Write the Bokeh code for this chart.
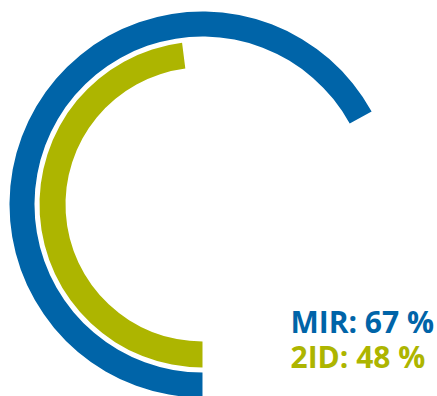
import math
from bokeh.plotting import figure
from bokeh.models import Range1d, ColumnDataSource
from bokeh.core.properties import value
from bokeh.embed import file_html
from bokeh.resources import INLINE

labels = ["MIR", "2ID"]
percents = [67, 48]
colors = ["#0064A8", "#ADB500"]

inner_r = [168, 137]
outer_r = [193, 163]

W, H = 437, 396
cx, cy = 202, H - 204

p = figure(width=W, height=H, output_backend="svg", toolbar_location=None,
           x_range=Range1d(0, W), y_range=Range1d(0, H), min_border=0)
p.axis.visible = False
p.grid.visible = False
p.outline_line_color = None
p.background_fill_color = "white"
p.border_fill_color = "white"

start = [-math.pi / 2 for _ in percents]
end = [-math.pi / 2 - v / 100 * 2 * math.pi for v in percents]
src = ColumnDataSource(dict(x=[cx] * len(percents), y=[cy] * len(percents),
                            ir=inner_r, orr=outer_r, s=start, e=end, c=colors))
p.annular_wedge(x="x", y="y", inner_radius="ir", outer_radius="orr",
                start_angle="s", end_angle="e", direction="clock",
                fill_color="c", line_color=None, source=src)

texts = [f"{l}: {v} %" for l, v in zip(labels, percents)]
tsrc = ColumnDataSource(dict(x=[290, 290], y=[H - 321, H - 356], t=texts, c=colors))
p.text(x="x", y="y", text="t", text_color="c", source=tsrc,
       text_font=value("Open Sans"), text_font_style="bold",
       text_font_size="30px", text_align="left", text_baseline="alphabetic")

open("out.html", "w").write(file_html(p, INLINE))
